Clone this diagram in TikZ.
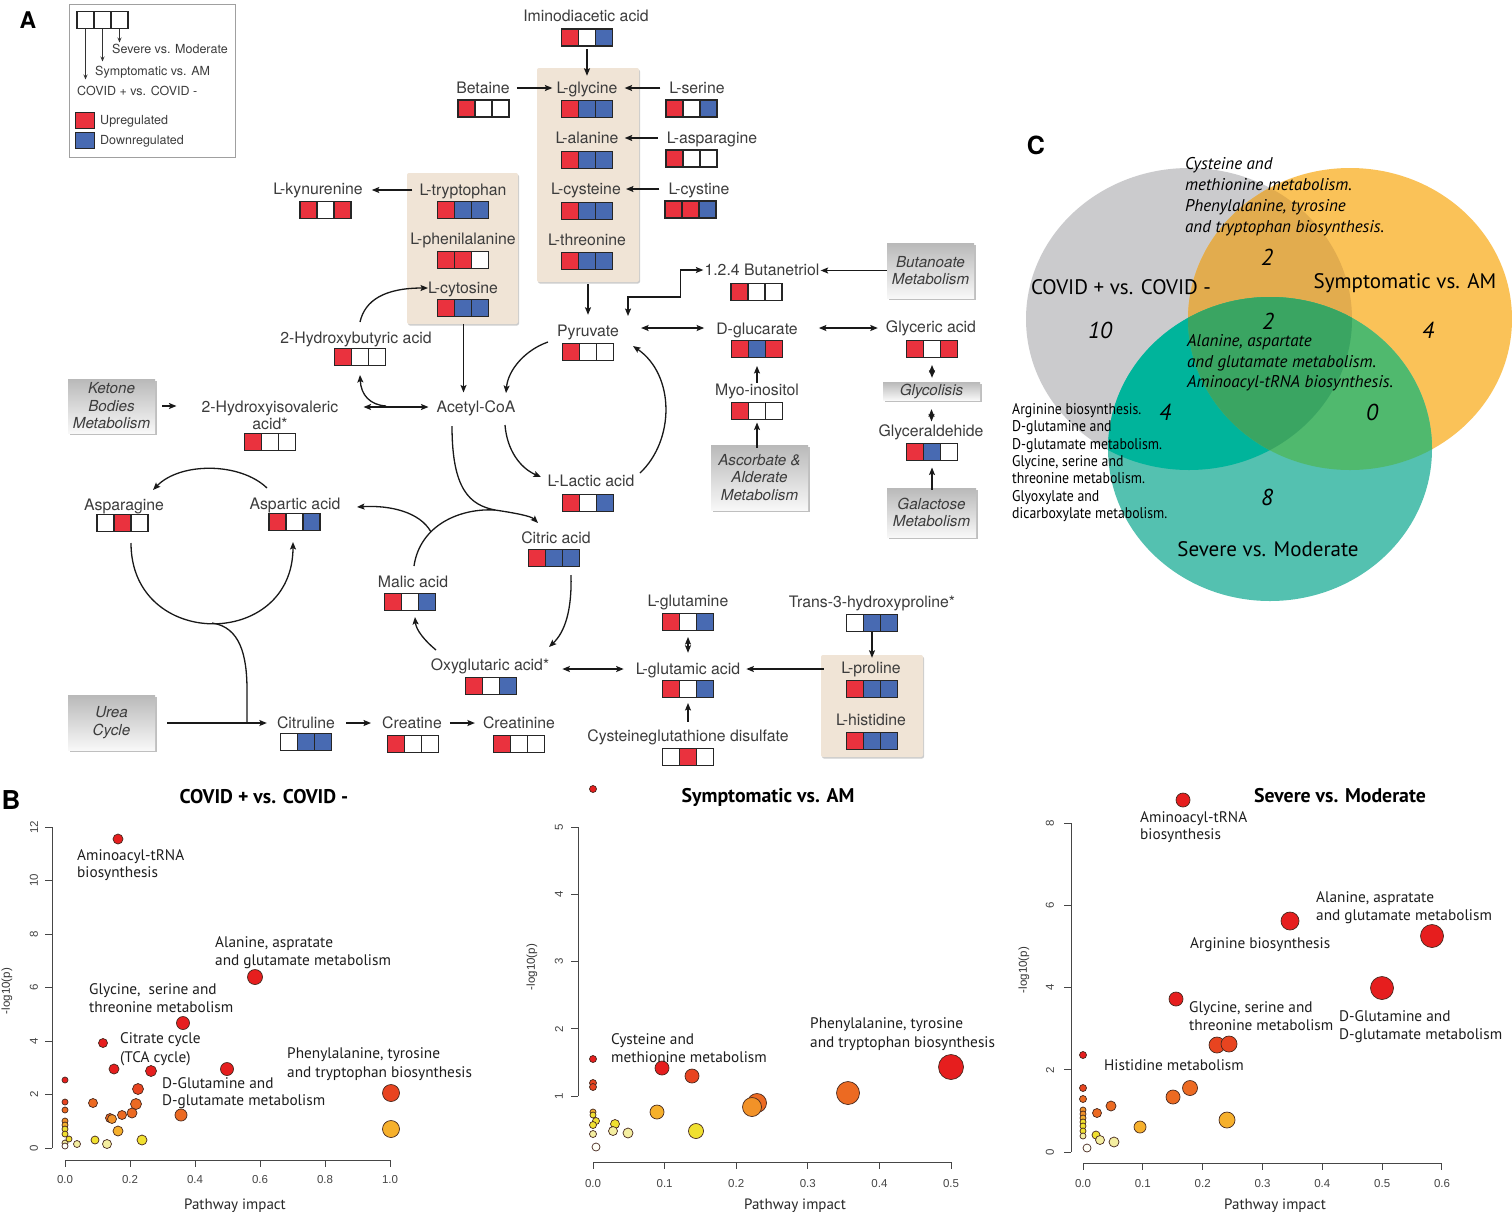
\documentclass[tikz,border=0pt]{standalone}
\usepackage{fontspec}
\setmainfont{TeX Gyre Heros}
\newfontfamily\pts{PT Sans}
\newfontfamily\ptsn[FakeStretch=0.89]{PT Sans}
\newfontfamily\lib{Liberation Sans}
\usetikzlibrary{arrows.meta,shadows}
\definecolor{txt}{RGB}{60,60,60}
\definecolor{cR}{RGB}{234,50,62}
\definecolor{cB}{RGB}{72,106,178}
\definecolor{cW}{RGB}{255,255,255}
\definecolor{tanc}{RGB}{240,228,214}
\definecolor{gtop}{RGB}{185,185,185}
\definecolor{gbot}{RGB}{248,248,248}
\definecolor{legc}{RGB}{160,160,160}
\definecolor{vG}{RGB}{203,203,205}
\definecolor{vO}{RGB}{250,194,88}
\definecolor{vT}{RGB}{84,193,176}
\definecolor{vGO}{RGB}{226,172,78}
\definecolor{vGT}{RGB}{0,180,155}
\definecolor{vOT}{RGB}{80,185,110}
\definecolor{vGOT}{RGB}{58,165,98}
\definecolor{h1}{RGB}{230,30,30}
\definecolor{h2}{RGB}{232,68,32}
\definecolor{h3}{RGB}{236,106,34}
\definecolor{h4}{RGB}{242,146,40}
\definecolor{h5}{RGB}{246,176,44}
\definecolor{h6}{RGB}{240,224,48}
\definecolor{h7}{RGB}{244,238,160}
\definecolor{h8}{RGB}{255,255,248}
\definecolor{ptline}{RGB}{70,40,30}
\definecolor{axc}{RGB}{70,70,70}
\tikzset{
 lab/.style={font=\fontsize{15.8}{17}\selectfont, text=txt, inner sep=1pt, anchor=base, yshift=-5.5pt},
 tripbox/.style={minimum width=51pt, minimum height=17pt, inner sep=0pt, outer sep=0pt},
 arr/.style={-{Stealth[length=7.5pt,width=6pt,inset=1.5pt]}, line width=1.3pt, draw={rgb,255:red,25;green,25;blue,25}},
 arrb/.style={{Stealth[length=7.5pt,width=6pt,inset=1.5pt]}-{Stealth[length=7.5pt,width=6pt,inset=1.5pt]}, line width=1.3pt, draw={rgb,255:red,25;green,25;blue,25}},
 plain/.style={line width=1.3pt, draw={rgb,255:red,25;green,25;blue,25}},
 larr/.style={-{Stealth[length=5pt,width=4pt]}, line width=0.9pt, draw=black!80},
 tanbox/.style={fill=tanc, draw=none, rounded corners=2pt, inner sep=0pt, drop shadow={shadow xshift=1pt,shadow yshift=-1.5pt,opacity=.2,fill=black}},
 graybox/.style={top color=gtop, bottom color=gbot, draw=none, inner sep=0pt, align=center, text=txt, font=\itshape\fontsize{15.2}{17.5}\selectfont, drop shadow={shadow xshift=1.5pt,shadow yshift=-2pt,opacity=.25,fill=black}},
 legt/.style={font=\fontsize{12.5}{14}\selectfont, text=txt, inner sep=0pt, anchor=base west},
 vt/.style={font=\pts\itshape\fontsize{17}{18}\selectfont, inner sep=0pt, anchor=base west},
 vn/.style={font=\pts\itshape\fontsize{23}{26}\selectfont, inner sep=0pt},
 vl/.style={font=\pts\fontsize{21}{24}\selectfont, inner sep=0pt, anchor=base},
 vs/.style={font=\ptsn\fontsize{15.5}{17}\selectfont, inner sep=0pt, anchor=base west},
 pl/.style={font=\pts\fontsize{15.3}{17}\selectfont, inner sep=0pt, anchor=base west, text={rgb,255:red,30;green,30;blue,30}},
 ptitle/.style={font=\pts\bfseries\fontsize{19.8}{22}\selectfont, inner sep=0pt},
 axt/.style={font=\pts\fontsize{15}{16}\selectfont, inner sep=0pt, text={rgb,255:red,40;green,40;blue,40}},
 tick/.style={font=\lib\fontsize{11.5}{13}\selectfont, inner sep=0pt, text=axc},
 ax/.style={line width=1pt, draw=axc},
 panel/.style={font=\bfseries\fontsize{24}{26}\selectfont, inner sep=0pt}
}
\newcommand\trip[5]{%
 \node[tripbox] (#1) at (#2) {};
 \fill[#3] (#1.north west) rectangle ([xshift=17pt]#1.south west);
 \fill[#4] ([xshift=17pt]#1.north west) rectangle ([xshift=34pt]#1.south west);
 \fill[#5] ([xshift=34pt]#1.north west) rectangle (#1.south east);
 \draw[line width=1.1pt, draw=black!85] (#1.north west) rectangle (#1.south east)
   ([xshift=17pt]#1.north west) -- ([xshift=17pt]#1.south west)
   ([xshift=34pt]#1.north west) -- ([xshift=34pt]#1.south west);}
\newcommand\met[7]{\node[lab] (#1) at (#2) {#3}; \trip{#1b}{#4}{#5}{#6}{#7}}
\newcommand\pp[4]{\filldraw[fill=#4, draw=ptline, line width=0.7pt] (#1,#2) circle[radius=#3pt];}
\begin{document}
\begin{tikzpicture}[x=1pt,y=-1pt]
\useasboundingbox (0,0) rectangle (1512,1216);
\fill[white] (0,0) rectangle (1512,1216);

% ---------------- Panel A ----------------
\node[panel, font=\bfseries\fontsize{23}{26}\selectfont] (lblA) at (28,20) {A};
% legend
\node[draw=legc, line width=1pt, minimum width=166pt, minimum height=153pt, inner sep=0pt] (leg) at (152,80.5) {};
\trip{legb}{102.5,20}{cW}{cW}{cW}
\draw[larr] ([xshift=8.5pt]legb.south west) -- ++(0,51);
\draw[larr] ([xshift=25.5pt]legb.south west) -- ++(0,33);
\draw[larr] ([xshift=42.5pt]legb.south west) -- ++(0,14);
\node[legt] (lg1) at (112,53) {Severe vs. Moderate};
\node[legt] (lg2) at (95,75) {Symptomatic vs. AM};
\node[legt] (lg3) at (77,95) {COVID + vs. COVID -};
\node[draw=black!85, line width=1pt, fill=cR, minimum width=19pt, minimum height=16pt, inner sep=0pt] (lgr) at (85,120) {};
\node[draw=black!85, line width=1pt, fill=cB, minimum width=19pt, minimum height=16pt, inner sep=0pt] (lgb) at (85,140) {};
\node[legt] (lg4) at (100,124) {Upregulated};
\node[legt] (lg5) at (100,144) {Downregulated};

% tan boxes
\node[tanbox, minimum width=102pt, minimum height=214pt] (tan1) at (588,175) {};
\node[tanbox, minimum width=111pt, minimum height=151pt] (tan2) at (462.5,248.5) {};
\node[tanbox, minimum width=102pt, minimum height=102pt] (tan3) at (872,706) {};

% gray boxes
\node[graybox, minimum width=87pt, minimum height=54pt] (ket) at (111.5,406) {Ketone\\Bodies\\Metabolism};
\node[graybox, minimum width=87pt, minimum height=55pt] (urea) at (111.5,722.5) {Urea\\Cycle};
\node[graybox, minimum width=87pt, minimum height=55pt] (buta) at (930.5,270.5) {Butanoate\\Metabolism};
\node[graybox, minimum width=97pt, minimum height=65pt] (asc) at (759.5,477.5) {Ascorbate \&\\Alderate\\Metabolism};
\node[graybox, minimum width=97pt, minimum height=18pt] (glyco) at (931.5,391) {Glycolisis};
\node[graybox, minimum width=89pt, minimum height=49pt] (gal) at (931.5,512.5) {Galactose\\Metabolism};

% metabolites
\met{imino}{586,16}{Iminodiacetic acid}{587,37.5}{cR}{cW}{cB}
\met{bet}{483,88}{Betaine}{483.5,108.5}{cR}{cW}{cW}
\met{gly}{587,88}{L-glycine}{587,109}{cR}{cB}{cB}
\met{ser}{697,88}{L-serine}{691.5,108.5}{cR}{cW}{cB}
\met{ala}{587,138}{L-alanine}{587,160}{cR}{cB}{cB}
\met{aspg}{712,138}{L-asparagine}{691.5,158.5}{cR}{cW}{cW}
\met{cys}{586,189}{L-cysteine}{587,211}{cR}{cB}{cB}
\met{cyst}{699,189}{L-cystine}{690.5,209.5}{cR}{cR}{cB}
\met{thr}{587,240}{L-threonine}{587,261}{cR}{cB}{cB}
\met{kyn}{318,189}{L-kynurenine}{325.5,210}{cR}{cW}{cR}
\met{trp}{463,190}{L-tryptophan}{463,210}{cR}{cB}{cB}
\met{phe}{463,239}{L-phenilalanine}{463,260}{cR}{cR}{cW}
\met{cyt}{463,288}{L-cytosine}{463,308}{cR}{cB}{cB}
\met{hbut}{356,338}{2-Hydroxybutyric acid}{360,357}{cR}{cW}{cW}
\node[lab] (hiso) at (270,407) {2-Hydroxyisovaleric};
\node[lab] (hiso2) at (270,424) {acid*};
\trip{hisob}{270,442}{cR}{cW}{cW}
\node[lab] (acoa) at (476,407) {Acetyl-CoA};
\met{pyr}{588,331}{Pyruvate}{588,352}{cR}{cW}{cW}
\met{but}{762,270}{1.2.4 Butanetriol}{756.5,292}{cR}{cW}{cW}
\met{gluc}{757,329}{D-glucarate}{757,349}{cR}{cB}{cR}
\met{glyc}{931,327}{Glyceric acid}{932,349}{cR}{cW}{cR}
\met{myo}{757,390}{Myo-inositol}{757,411}{cR}{cW}{cW}
\met{glyald}{931,431}{Glyceraldehide}{932,452}{cR}{cB}{cW}
\met{lac}{591,481}{L-Lactic acid}{588,503}{cR}{cW}{cB}
\met{cit}{556,538}{Citric acid}{554,558}{cR}{cB}{cB}
\met{aspn}{124,505}{Asparagine}{122.5,523}{cW}{cR}{cW}
\met{aspa}{295,504}{Aspartic acid}{294.5,522}{cR}{cW}{cB}
\met{mal}{413,582}{Malic acid}{410,602}{cR}{cW}{cB}
\met{oxy}{490,665}{Oxyglutaric acid*}{491,686}{cR}{cW}{cB}
\met{gln}{688,601}{L-glutamine}{688,622}{cR}{cW}{cB}
\met{hyp}{872,602}{Trans-3-hydroxyproline*}{872,623}{cW}{cB}{cB}
\met{glu}{688,669}{L-glutamic acid}{688,689}{cR}{cW}{cB}
\met{pro}{871,668}{L-proline}{872,689}{cR}{cB}{cB}
\met{his}{871,720}{L-histidine}{872,741}{cR}{cB}{cB}
\met{cgd}{688,736}{Cysteineglutathione disulfate}{688,757}{cW}{cR}{cW}
\met{citr}{306,723}{Citruline}{306,742}{cW}{cB}{cB}
\met{crea}{412,723}{Creatine}{413,744}{cR}{cW}{cW}
\met{crn}{519,723}{Creatinine}{519,744}{cR}{cW}{cW}

% straight connectors
\draw[arr,shorten <=3pt] (iminob.south) -- ([yshift=5pt]gly.north);
\draw[arr,shorten <=6pt,shorten >=3pt] ([yshift=5.5pt]bet.base east) -- ([yshift=5.5pt]bet.base east -| gly.west);
\draw[arr,shorten <=8pt,shorten >=6pt] ([yshift=5.5pt]ser.base west) -- ([yshift=5.5pt]ser.base west -| gly.east);
\draw[arr,shorten <=8pt,shorten >=5pt] ([yshift=5.5pt]aspg.base west) -- ([yshift=5.5pt]aspg.base west -| ala.east);
\draw[arr,shorten <=8pt,shorten >=4pt] ([yshift=5.5pt]cyst.base west) -- ([yshift=5.5pt]cyst.base west -| cys.east);
\draw[arr,shorten <=2pt] (tan1.south) -- ([yshift=9pt]tan1.south |- pyr.north);
\draw[arrb] ([shift={(40,-36)}]pyrb.center) |- ([shift={(-76,5)}]butb.center) |- ([yshift=5.5pt]but.base west);
\draw[arr] (buta.west) -- (buta.west -| but.east);
\draw[arrb,shorten <=21pt,shorten >=11pt] ([yshift=6.5pt]gluc.base west -| pyr.east) -- ([yshift=6.5pt]gluc.base west);
\draw[arrb,shorten <=20pt,shorten >=7pt] ([yshift=6.5pt]gluc.base east) -- ([yshift=6.5pt]gluc.base east -| glyc.west);
\draw[arr,shorten >=8.5pt] (myo.north) -- (myo.north |- glucb.south);
\draw[arr,shorten <=-3pt,shorten >=3pt] (myob.south |- asc.north) -- (myob.south);
\draw[arrb,shorten <=7.5pt,shorten >=4pt] (glycb.south) -- (glycb.south |- glyco.north);
\draw[arrb,shorten <=9pt,shorten >=2pt] (glyco.south) -- (glyco.south |- glyald.north);
\draw[arr,shorten <=-2pt,shorten >=7pt] (glyaldb.south |- gal.north) -- (glyaldb.south);
\draw[arr,shorten <=6pt,shorten >=8pt] ([yshift=5.5pt]trp.base west) -- ([yshift=5.5pt]trp.base west -| kyn.east);
\draw[arr,shorten >=7pt] ([xshift=1pt]tan2.south) -- ([xshift=1pt]tan2.south |- acoa.north);
\draw[arrb,shorten <=24pt,shorten >=7pt] ([yshift=5.5pt]hiso.base east) -- ([yshift=5.5pt]hiso.base east -| acoa.west);
\draw[arr,shorten <=7pt,shorten >=24pt] (ket.east) -- (ket.east -| hiso.west);
\draw[arr,shorten <=12pt,shorten >=9pt] ([yshift=5.5pt]citr.base west -| urea.east) -- ([yshift=5.5pt]citr.base west);
\draw[arr,shorten <=10pt,shorten >=10pt] ([yshift=5.5pt]citr.base east) -- ([yshift=5.5pt]citr.base east -| crea.west);
\draw[arr,shorten <=7pt,shorten >=7pt] ([yshift=5.5pt]crea.base east) -- ([yshift=5.5pt]crea.base east -| crn.west);
\draw[arrb,shorten <=12pt,shorten >=11pt] ([yshift=5.5pt]glu.base west -| oxy.east) -- ([yshift=5.5pt]glu.base west);
\draw[arrb,shorten <=6.5pt,shorten >=9pt] (glnb.south) -- (glnb.south |- glu.north);
\draw[arr,shorten <=-3pt,shorten >=5pt] ([yshift=5.5pt]glu.base east -| tan3.west) -- ([yshift=5.5pt]glu.base east);
\draw[arr,shorten >=3pt] (hypb.south) -- (hypb.south |- pro.north);
\draw[arr,shorten <=7pt] (cgd.north) -- ([yshift=-5.5pt]glub.south);

% curved connectors
\coordinate (tj) at (495,510);
\coordinate (ub) at (212,623);
\coordinate (uj) at (247,723);
\coordinate (mj) at (431,532);
\draw[arr] ([shift={(-40,-10)}]pyrb.center) .. controls (525,350) and (508,370) .. ([shift={(30,-19.5)}]acoa.base);
\draw[arr] ([shift={(29,12.5)}]acoa.base) .. controls (507,450) and (520,468) .. ([shift={(-47,-26)}]lacb.center);
\draw[arr] ([shift={(52,-30)}]lacb.center) .. controls (675,440) and (675,375) .. ([shift={(45,-6)}]pyrb.center);
\draw[arr] ([shift={(-24,13.5)}]acoa.base) .. controls (452,490) and (470,505) .. (tj) .. controls (515,513) and (531,516) .. ([shift={(-16,-35)}]citb.center);
\draw[plain] ([shift={(4,-36)}]malb.center) .. controls (420,525) and (460,508) .. (tj);
\draw[arr] (mj) .. controls (420,512) and (390,505) .. ([shift={(62.5,-15)}]aspab.center);
\draw[arr] ([shift={(17,17)}]citb.center) .. controls (572,610) and (565,632) .. ([shift={(58,-39)}]oxyb.center);
\draw[arr] ([shift={(-55,-36)}]oxyb.center) .. controls (425,641) and (416,630) .. ([shift={(5,15)}]malb.center);
\draw[arr] ([shift={(8.5,20)}]aspnb.center) .. controls (131,650) and (293,650) .. ([shift={(-1.5,20)}]aspab.center);
\draw[plain] (ub) .. controls (240,627) and (247,655) .. (247,690) -- (uj);
\draw[arr] ([shift={(-28,-21.5)}]aspa.base) .. controls (240,462) and (180,462) .. ([shift={(29,-20.5)}]aspn.base);
\draw[arr] ([shift={(4,-21.5)}]hbut.base) .. controls (365,300) and (385,288) .. ([shift={(-35,-5.5)}]cyt.base);
\draw[arr] ([shift={(46.5,-6.5)}]hiso.base east) .. controls (370,405) and (361,395) .. ([shift={(0,18)}]hbutb.center);

% ---------------- Panel C ----------------
\node[panel, font=\bfseries\fontsize{25}{28}\selectfont] (lblC) at (1036,145) {C};
\fill[vG] (1189,319) ellipse[x radius=163pt, y radius=151pt];
\fill[vO] (1350,319) ellipse[x radius=162pt, y radius=151pt];
\fill[vT] (1270,449) ellipse[x radius=162pt, y radius=152pt];
\begin{scope}
 \clip (1189,319) ellipse[x radius=163pt, y radius=151pt];
 \fill[vGO] (1350,319) ellipse[x radius=162pt, y radius=151pt];
 \fill[vGT] (1270,449) ellipse[x radius=162pt, y radius=152pt];
\end{scope}
\begin{scope}
 \clip (1350,319) ellipse[x radius=162pt, y radius=151pt];
 \fill[vOT] (1270,449) ellipse[x radius=162pt, y radius=152pt];
\end{scope}
\begin{scope}
 \clip (1189,319) ellipse[x radius=163pt, y radius=151pt];
 \clip (1350,319) ellipse[x radius=162pt, y radius=151pt];
 \fill[vGOT] (1270,449) ellipse[x radius=162pt, y radius=152pt];
\end{scope}
\node[vt] (vc1) at (1185,169) {Cysteine and};
\node[vt] (vc2) at (1185,190) {methionine metabolism.};
\node[vt] (vc3) at (1185,211) {Phenylalanine, tyrosine};
\node[vt] (vc4) at (1185,232) {and tryptophan biosynthesis.};
\node[vn] (vn1) at (1267,257) {2};
\node[vl] (vlG) at (1121,294) {COVID + vs. COVID -};
\node[vl] (vlO) at (1405,288) {Symptomatic vs. AM};
\node[vn] (vn2) at (1100,330) {10};
\node[vn] (vn3) at (1268,321) {2};
\node[vn] (vn4) at (1428,330) {4};
\node[vt] (va1) at (1187,346) {Alanine, aspartate};
\node[vt] (va2) at (1187,367) {and glutamate metabolism.};
\node[vt] (va3) at (1187,387) {Aminoacyl-tRNA biosynthesis.};
\node[vn] (vn5) at (1165,412) {4};
\node[vn] (vn6) at (1372,412) {0};
\node[vs] (vs1) at (1012,414) {Arginine biosynthesis.};
\node[vs] (vs2) at (1012,431) {D-glutamine and};
\node[vs] (vs3) at (1012,449) {D-glutamate metabolism.};
\node[vs] (vs4) at (1012,466) {Glycine, serine and};
\node[vs] (vs5) at (1012,483) {threonine metabolism.};
\node[vs] (vs6) at (1012,501) {Glyoxylate and};
\node[vs] (vs7) at (1012,518) {dicarboxylate metabolism.};
\node[vn] (vn7) at (1267,497) {8};
\node[vl] (vlT) at (1268,556) {Severe vs. Moderate};

% ---------------- Panel B ----------------
\node[panel, font=\bfseries\fontsize{26}{28}\selectfont] (lblB) at (11,800) {B};
% plot 1
\node[ptitle] (t1) at (264,797) {COVID + vs. COVID -};
\draw[ax] (52,827) -- (52,1148);
\foreach \v in {0,2,...,12} {\draw[ax] (52,{1148-26.75*\v}) -- ++(-7,0); \node[tick,rotate=90] at (34,{1148-26.75*\v}) {\v};}
\draw[ax] (65,1160) -- (390,1160);
\foreach \v/\l in {0/0.0,1/0.2,2/0.4,3/0.6,4/0.8,5/1.0} {\draw[ax] ({65+65*\v},1160) -- ++(0,7); \node[tick] at ({65+65*\v},1180) {\l};}
\node[axt] (x1) at (235,1206) {Pathway impact};
\node[tick,rotate=90, text=black!80] (y1) at (7,991) {-log10(p)};
\pp{118}{839}{5}{h1}
\pp{255}{977}{7.5}{h1}
\pp{183}{1023}{6.5}{h1}
\pp{103}{1043}{4.5}{h1}
\pp{114}{1069}{5}{h1}
\pp{151}{1071}{5.5}{h1}
\pp{227}{1069}{6.5}{h1}
\pp{65}{1080}{3}{h1}
\pp{138}{1089}{5.5}{h2}
\pp{391}{1093}{8.5}{h2}
\pp{65}{1102}{3}{h2}
\pp{93}{1103}{4.5}{h3}
\pp{136}{1104}{5.5}{h3}
\pp{65}{1110}{3}{h3}
\pp{132}{1113}{5}{h3}
\pp{122}{1115}{4.5}{h3}
\pp{181}{1115}{6}{h3}
\pp{110}{1118}{4.5}{h3}
\pp{112}{1119}{4.5}{h4}
\pp{118}{1131}{5}{h5}
\pp{391}{1129}{8.5}{h5}
\pp{65}{1121}{3}{h4}
\pp{65}{1125}{3}{h5}
\pp{65}{1129}{3}{h6}
\pp{65}{1134}{3}{h6}
\pp{65}{1143}{3}{h7}
\pp{65}{1146}{3}{h8}
\pp{69}{1139}{3}{h6}
\pp{77}{1144}{3.5}{h7}
\pp{95}{1140}{4}{h6}
\pp{107}{1144}{4.5}{h7}
\pp{142}{1140}{5}{h6}
\node[pl] (l11) at (77,860) {Aminoacyl-tRNA};
\node[pl] (l12) at (77,877) {biosynthesis};
\node[pl] (l13) at (215,947) {Alanine, aspratate};
\node[pl] (l14) at (215,965) {and glutamate metabolism};
\node[pl] (l15) at (89,994) {Glycine,\ \ serine and};
\node[pl] (l16) at (89,1012) {threonine metabolism};
\node[pl] (l17) at (120,1043) {Citrate cycle};
\node[pl] (l18) at (120,1062) {(TCA cycle)};
\node[pl] (l19) at (287,1058) {Phenylalanine, tyrosine};
\node[pl] (l110) at (287,1077) {and tryptophan biosynthesis};
\node[pl] (l111) at (162,1088) {D-Glutamine and};
\node[pl] (l112) at (162,1105) {D-glutamate metabolism};
% plot 2
\node[ptitle] (t2) at (768,797) {Symptomatic vs. AM};
\draw[ax] (578,827) -- (578,1096.2);
\foreach \v in {1,...,5} {\draw[ax] (578,{1163.5-67.3*\v}) -- ++(-7,0); \node[tick,rotate=90] at (559,{1163.5-67.3*\v}) {\v};}
\draw[ax] (593,1162) -- (951,1162);
\foreach \v/\l in {0/0.0,1/0.1,2/0.2,3/0.3,4/0.4,5/0.5} {\draw[ax] ({593+71.6*\v},1162) -- ++(0,7); \node[tick] at ({593+71.6*\v},1184) {\l};}
\node[axt] (x2) at (795,1206) {Pathway impact};
\node[tick,rotate=90, text=black!80] (y2) at (532,967) {-log10(p)};
\pp{593}{789}{3.5}{h1}
\pp{593}{1059}{3.5}{h1}
\pp{593}{1083}{3.5}{h2}
\pp{593}{1087}{3.5}{h2}
\pp{662}{1068}{7}{h1}
\pp{692}{1076}{7}{h2}
\pp{951}{1067}{12.5}{h1}
\pp{848}{1093}{11.5}{h3}
\pp{757}{1103}{9.5}{h3}
\pp{752}{1107}{9.5}{h4}
\pp{657}{1112}{7}{h5}
\pp{696}{1131}{7.5}{h6}
\pp{593}{1112}{3}{h5}
\pp{593}{1115}{3}{h6}
\pp{596}{1121}{3.5}{h6}
\pp{593}{1125}{3.5}{h6}
\pp{615}{1124}{4.5}{h6}
\pp{613}{1131}{4.5}{h7}
\pp{628}{1133}{5}{h7}
\pp{593}{1134}{3.5}{h7}
\pp{596}{1147}{4}{h8}
\node[pl] (l21) at (611,1044) {Cysteine and};
\node[pl] (l22) at (611,1062) {methionine metabolism};
\node[pl] (l23) at (810,1028) {Phenylalanine, tyrosine};
\node[pl] (l24) at (810,1047) {and tryptophan biosynthesis};
% plot 3
\node[ptitle] (t3) at (1340,796) {Severe vs. Moderate};
\draw[ax] (1071,823.2) -- (1071,1152);
\foreach \v in {0,2,4,6,8} {\draw[ax] (1071,{1152-41.1*\v}) -- ++(-7,0); \node[tick,rotate=90] at (1050,{1152-41.1*\v}) {\v};}
\draw[ax] (1083,1163) -- (1442,1163);
\foreach \v/\l in {0/0.0,1/0.1,2/0.2,3/0.3,4/0.4,5/0.5,6/0.6} {\draw[ax] ({1083+59.83*\v},1163) -- ++(0,7); \node[tick] at ({1083+59.83*\v},1184) {\l};}
\node[axt] (x3) at (1275,1206) {Pathway impact};
\node[tick,rotate=90, text=black!80] (y3) at (1024,970) {-log10(p)};
\pp{1183}{800}{7}{h1}
\pp{1290}{921}{9}{h1}
\pp{1432}{936}{11.5}{h1}
\pp{1382}{988}{11.5}{h1}
\pp{1176}{999}{7}{h1}
\pp{1217}{1045}{8}{h2}
\pp{1229}{1044}{8}{h2}
\pp{1083}{1055}{3.5}{h1}
\pp{1083}{1088}{3.5}{h2}
\pp{1083}{1099}{3.5}{h3}
\pp{1190}{1088}{7.5}{h3}
\pp{1173}{1097}{7}{h3}
\pp{1111}{1106}{5}{h3}
\pp{1097}{1113}{4.5}{h3}
\pp{1227}{1120}{8}{h5}
\pp{1140}{1127}{6}{h5}
\pp{1083}{1110}{3}{h4}
\pp{1083}{1114}{3}{h4}
\pp{1083}{1118}{3}{h5}
\pp{1083}{1122}{3}{h6}
\pp{1083}{1126}{3}{h6}
\pp{1083}{1131}{3}{h6}
\pp{1083}{1136}{3}{h7}
\pp{1096}{1135}{4}{h6}
\pp{1100}{1140}{4.5}{h7}
\pp{1114}{1142}{5}{h7}
\pp{1087}{1148}{4}{h8}
\node[pl] (l31) at (1140,822) {Aminoacyl-tRNA};
\node[pl] (l32) at (1140,839) {biosynthesis};
\node[pl] (l33) at (1316,902) {Alanine, aspratate};
\node[pl] (l34) at (1316,920) {and glutamate metabolism};
\node[pl] (l35) at (1190,948) {Arginine biosynthesis};
\node[pl] (l36) at (1189,1012) {Glycine, serine and};
\node[pl] (l37) at (1189,1030) {threonine metabolism};
\node[pl] (l38) at (1339,1021) {D-Glutamine and};
\node[pl] (l39) at (1339,1039) {D-glutamate metabolism};
\node[pl] (l310) at (1104,1070) {Histidine metabolism};
\end{tikzpicture}
\end{document}
